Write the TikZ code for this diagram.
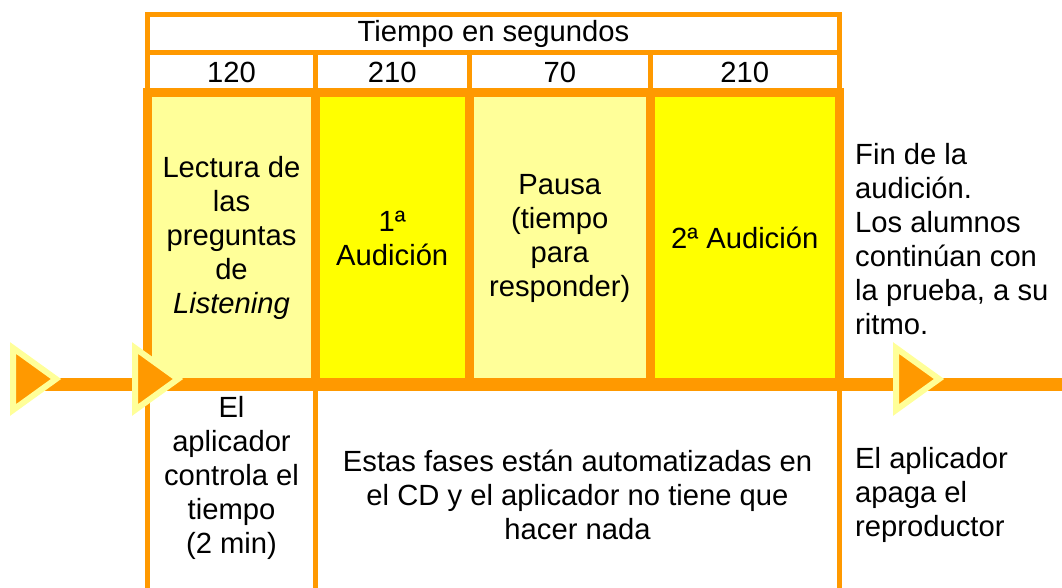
\documentclass[tikz,border=0pt]{standalone}
\usepackage{fontspec}
\setmainfont{Liberation Sans}
\usetikzlibrary{positioning}
\usepackage{xcolor}
\definecolor{naranja}{HTML}{FF9900}
\definecolor{amarilloclaro}{HTML}{FFFF99}
\definecolor{amarillo}{HTML}{FFFF00}

\begin{document}
\begin{tikzpicture}[
			x=1pt, y=-1pt,
			font=\fontsize{29.2}{34}\selectfont,
			% Styles for the table cells and the time line
			celda/.style={rectangle, draw=naranja, line width=5pt, outer sep=0pt, inner sep=0pt, align=center, minimum height=40pt},
			fase/.style={rectangle, draw=naranja, line width=9pt, outer sep=0pt, inner sep=0pt, align=center, minimum height=291.5pt},
			clara/.style={fase, fill=amarilloclaro},
			fuerte/.style={fase, fill=amarillo},
			eje/.style={draw=naranja, line width=13pt},
			separa/.style={draw=naranja, line width=5pt},
			marca/.style={fill=naranja, draw=amarilloclaro, line width=6pt, line join=miter},
			texto/.style={align=center, inner sep=0pt},
			nota/.style={align=left, inner sep=0pt, anchor=west}
			]
			\useasboundingbox (0,0) rectangle (1062,588);
			
			% --- Header ---
			\node (tiempo) [celda, minimum width=692pt, minimum height=37.5pt] at (493.5,33.75) {Tiempo en segundos};
			
			\node (n1) [celda, minimum width=168pt, anchor=north west] at (tiempo.south west) {120};
			\node (n2) [celda, minimum width=153.5pt, right=0pt of n1] {210};
			\node (n3) [celda, minimum width=181.5pt, right=0pt of n2] {70};
			\node (n4) [celda, minimum width=188.5pt, right=0pt of n3] {210};
			
			% --- Phases ---
			\node (f1) [clara, minimum width=168pt, anchor=north west] at (n1.south west) {Lectura de\\las\\preguntas\\de\\\textit{Listening}};
			\node (f2) [fuerte, minimum width=153.5pt, right=0pt of f1] {1ª\\Audición};
			\node (f3) [clara, minimum width=181.5pt, right=0pt of f2] {Pausa\\(tiempo\\para\\responder)};
			\node (f4) [fuerte, minimum width=188.5pt, right=0pt of f3] {2ª Audición};
			
			% --- Time line ---
			\coordinate (eje0) at (30,384.5);
			\coordinate (eje1) at (1062,384.5);
			\draw[eje] (eje0) -- (eje1);
			
			% Lines below the time line
			\draw[separa] (f1.south west) -- ++(0,206);
			\draw[separa] (f1.south east) -- ++(0,206);
			\draw[separa] (f4.south east) -- ++(0,206);
			
			% Arrow marks
			\foreach \x in {13,135,896}
				\filldraw[marca] (\x,348) -- (\x,410) -- (\x+43,379) -- cycle;
			
			% --- Notes ---
			\node (fin) [nota] at (855,239) {Fin de la\\audición.\\Los alumnos\\continúan con\\la prueba, a su\\ritmo.};
			\node (control) [texto] at (231.5,478) {El\\aplicador\\controla el\\tiempo\\(2 min)};
			\node (auto) [texto] at (577.5,495) {Estas fases están automatizadas en\\el CD y el aplicador no tiene que\\hacer nada};
			\node (apaga) [nota] at (855,495) {El aplicador\\apaga el\\reproductor};
			
		\end{tikzpicture}
\end{document}
